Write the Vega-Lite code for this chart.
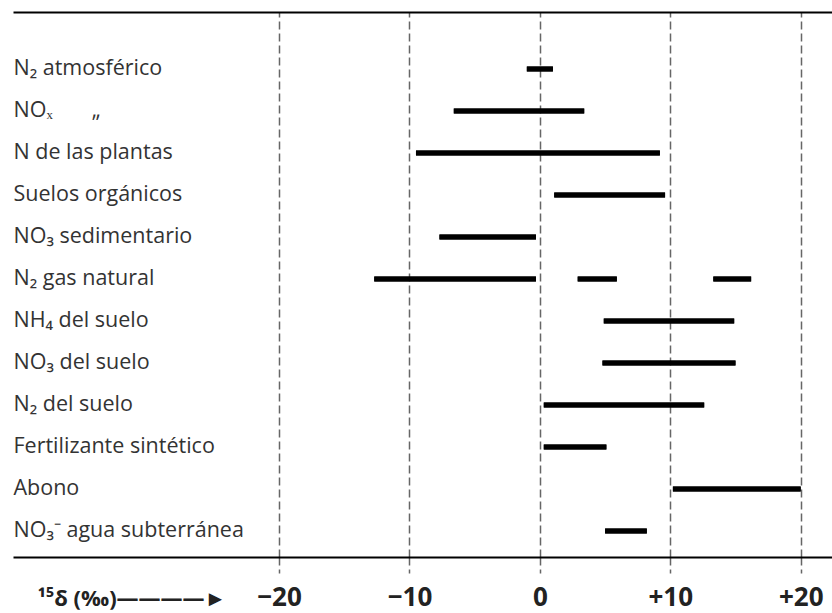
{
  "$schema": "https://vega.github.io/schema/vega-lite/v6.json",
  "width": 819,
  "height": 545,
  "autosize": "none",
  "padding": {"left": 13, "top": 12, "right": 0, "bottom": 56},
  "background": "white",
  "config": {"view": {"stroke": null}, "font": "Open Sans"},
  "data": {
    "values": [
      {"label": "N₂ atmosférico", "lo": -1.0, "hi": 1.0},
      {"label": "NOₓ\u00a0\u00a0\u00a0\u00a0\u00a0\u00a0\u00a0„", "lo": -6.6, "hi": 3.4},
      {"label": "N de las plantas", "lo": -9.5, "hi": 9.2},
      {"label": "Suelos orgánicos", "lo": 1.1, "hi": 9.6},
      {"label": "NO₃ sedimentario", "lo": -7.7, "hi": -0.3},
      {"label": "N₂ gas natural", "lo": -12.7, "hi": -0.3},
      {"label": "N₂ gas natural", "lo": 2.9, "hi": 5.9},
      {"label": "N₂ gas natural", "lo": 13.3, "hi": 16.2},
      {"label": "NH₄ del suelo", "lo": 4.9, "hi": 14.9},
      {"label": "NO₃ del suelo", "lo": 4.8, "hi": 15.0},
      {"label": "N₂ del suelo", "lo": 0.3, "hi": 12.6},
      {"label": "Fertilizante sintético", "lo": 0.3, "hi": 5.1},
      {"label": "Abono", "lo": 10.2, "hi": 20.0},
      {"label": "NO₃⁻ agua subterránea", "lo": 5.0, "hi": 8.2}
    ]
  },
  "layer": [
    {
      "mark": {"type": "rule", "strokeWidth": 5, "color": "black"},
      "encoding": {
        "x": {
          "field": "lo",
          "type": "quantitative",
          "scale": {"domain": [-40.4, 22.4], "nice": false, "zero": false},
          "axis": {
            "orient": "bottom",
            "values": [-20, -10, 0, 10, 20],
            "labelExpr": "datum.value > 0 ? '+' + datum.label : datum.label",
            "grid": true,
            "gridColor": "#666",
            "gridWidth": 1.5,
            "gridDash": [8, 4],
            "ticks": true,
            "tickColor": "#666",
            "tickWidth": 1.5,
            "tickDash": [8, 4],
            "tickSize": 16,
            "domain": true,
            "domainColor": "black",
            "domainWidth": 2,
            "labelFont": "Open Sans",
            "labelFontWeight": "bold",
            "labelFontSize": 26,
            "labelColor": "#222",
            "labelPadding": 11,
            "title": "¹⁵δ  (‰)————►",
            "titleFont": "Open Sans",
            "titleFontWeight": "bold",
            "titleFontSize": 22,
            "titleColor": "#222",
            "titleAnchor": "start",
            "titleAlign": "left",
            "titleAngle": 0,
            "titleBaseline": "middle",
            "titleX": 24,
            "titleY": 41
          }
        },
        "x2": {"field": "hi"},
        "y": {
          "field": "label",
          "type": "nominal",
          "scale": {
            "domain": ["N₂ atmosférico", "NOₓ\u00a0\u00a0\u00a0\u00a0\u00a0\u00a0\u00a0„", "N de las plantas", "Suelos orgánicos", "NO₃ sedimentario", "N₂ gas natural", "NH₄ del suelo", "NO₃ del suelo", "N₂ del suelo", "Fertilizante sintético", "Abono", "NO₃⁻ agua subterránea"],
            "paddingInner": 0,
            "paddingOuter": 0.488,
            "align": 0.878
          },
          "axis": {
            "orient": "left",
            "title": null,
            "ticks": false,
            "domain": false,
            "grid": false,
            "labelAlign": "left",
            "labelBaseline": "middle",
            "labelPadding": 0,
            "labelFont": "Open Sans",
            "labelFontSize": 21.5,
            "labelColor": "#333",
            "labelLimit": 400
          }
        }
      }
    },
    {
      "mark": {"type": "rule", "strokeWidth": 5, "color": "black"},
      "encoding": {
        "x": {
          "field": "lo",
          "type": "quantitative",
          "axis": {
            "orient": "top",
            "labels": false,
            "ticks": false,
            "grid": false,
            "domain": true,
            "domainColor": "black",
            "domainWidth": 2,
            "title": null
          }
        },
        "x2": {"field": "hi"},
        "y": {"field": "label", "type": "nominal"}
      }
    }
  ],
  "resolve": {"axis": {"x": "independent"}}
}
